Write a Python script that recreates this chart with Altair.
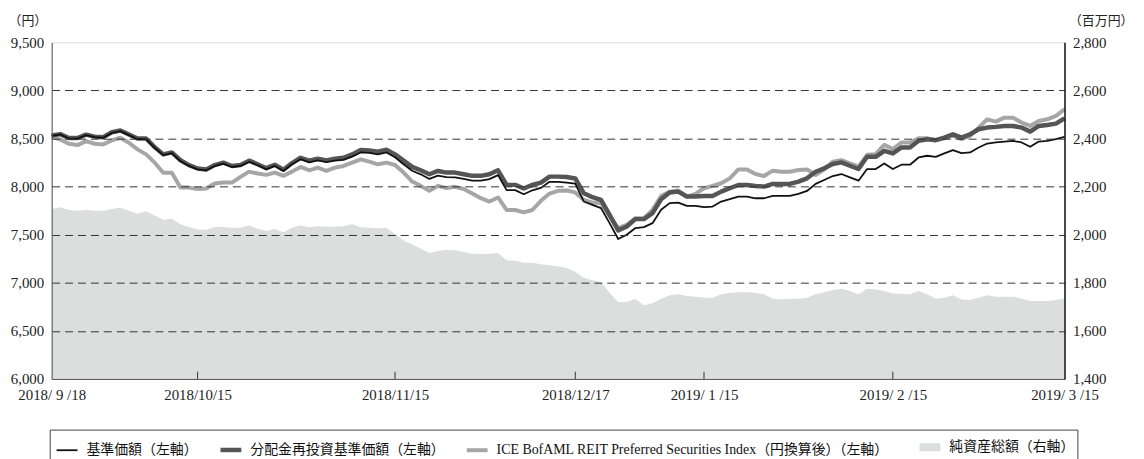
import altair as alt
import pandas as pd

dates = [
    "2018-09-18", "2018-09-19", "2018-09-20", "2018-09-21", "2018-09-25", "2018-09-26", "2018-09-27", "2018-09-28",
    "2018-10-01", "2018-10-02", "2018-10-03", "2018-10-04", "2018-10-05", "2018-10-09", "2018-10-10", "2018-10-11",
    "2018-10-12", "2018-10-15", "2018-10-16", "2018-10-17", "2018-10-18", "2018-10-19", "2018-10-22", "2018-10-23",
    "2018-10-24", "2018-10-25", "2018-10-26", "2018-10-29", "2018-10-30", "2018-10-31",
    "2018-11-01", "2018-11-02", "2018-11-05", "2018-11-06", "2018-11-07", "2018-11-08", "2018-11-09", "2018-11-12",
    "2018-11-13", "2018-11-14", "2018-11-15", "2018-11-16", "2018-11-19", "2018-11-20", "2018-11-21", "2018-11-22",
    "2018-11-26", "2018-11-27", "2018-11-28", "2018-11-29", "2018-11-30",
    "2018-12-03", "2018-12-04", "2018-12-05", "2018-12-06", "2018-12-07", "2018-12-10", "2018-12-11", "2018-12-12",
    "2018-12-13", "2018-12-14", "2018-12-17", "2018-12-18", "2018-12-19", "2018-12-20", "2018-12-21", "2018-12-25",
    "2018-12-26", "2018-12-27", "2018-12-28",
    "2019-01-04", "2019-01-07", "2019-01-08", "2019-01-09", "2019-01-10", "2019-01-11", "2019-01-15", "2019-01-16",
    "2019-01-17", "2019-01-18", "2019-01-21", "2019-01-22", "2019-01-23", "2019-01-24", "2019-01-25", "2019-01-28",
    "2019-01-29", "2019-01-30", "2019-01-31",
    "2019-02-01", "2019-02-04", "2019-02-05", "2019-02-06", "2019-02-07", "2019-02-08", "2019-02-12", "2019-02-13",
    "2019-02-14", "2019-02-15", "2019-02-18", "2019-02-19", "2019-02-20", "2019-02-21", "2019-02-22", "2019-02-25",
    "2019-02-26", "2019-02-27", "2019-02-28",
    "2019-03-01", "2019-03-04", "2019-03-05", "2019-03-06", "2019-03-07", "2019-03-08", "2019-03-11", "2019-03-12",
    "2019-03-13", "2019-03-14", "2019-03-15",
]

# 基準価額 (left axis, yen)
nav = [
    8528, 8542, 8500, 8500, 8535, 8515, 8508, 8559, 8577, 8535,
    8494, 8494, 8404, 8328, 8349, 8266, 8215, 8180, 8170, 8215,
    8239, 8204, 8215, 8259, 8222, 8180, 8215, 8163, 8232,
    8285, 8253, 8272, 8254, 8270, 8278, 8312, 8355, 8350, 8335,
    8355, 8305, 8232, 8165, 8128, 8080, 8115, 8098, 8097, 8080,
    8062, 8062, 8078, 8120, 7963, 7963, 7921, 7962, 7987, 8050,
    8050, 8042, 8030,
    7845, 7810, 7776, 7620, 7455, 7500, 7569, 7579, 7620, 7759,
    7828, 7834, 7800, 7800, 7786, 7793, 7845, 7869, 7897, 7897,
    7879, 7879, 7903, 7903, 7903, 7924, 7955, 8028, 8069, 8110,
    8131, 8096,
    8062, 8183, 8183, 8241, 8183, 8228, 8228, 8303, 8321, 8310,
    8345, 8379, 8348, 8355, 8407, 8448, 8459, 8469, 8476, 8459,
    8414, 8469, 8476, 8493, 8517,
]

# 分配金再投資基準価額 (left axis, yen)
nav_reinvested = [
    8532, 8546, 8505, 8505, 8540, 8520, 8513, 8565, 8583, 8541,
    8500, 8500, 8411, 8335, 8356, 8274, 8223, 8188, 8179, 8224,
    8249, 8214, 8225, 8270, 8233, 8192, 8227, 8176, 8245,
    8300, 8270, 8290, 8273, 8290, 8300, 8335, 8380, 8377, 8363,
    8384, 8335, 8270, 8205, 8170, 8129, 8163, 8146, 8146, 8129,
    8112, 8112, 8129, 8170, 8018, 8018, 7980, 8018, 8042, 8104,
    8104, 8100, 8085,
    7931, 7890, 7862, 7707, 7545, 7586, 7662, 7662, 7724, 7869,
    7938, 7948, 7897, 7897, 7903, 7903, 7948, 7983, 8017, 8017,
    8007, 8000, 8028, 8028, 8028, 8052, 8086, 8155, 8190, 8235,
    8252, 8217, 8183, 8310, 8310, 8372, 8345, 8407, 8407, 8476,
    8493, 8483, 8510, 8545, 8510, 8545, 8597, 8614, 8621, 8631,
    8631, 8614, 8572, 8631, 8641, 8655, 8710,
]

# ICE BofAML REIT Preferred Securities Index (yen converted, left axis)
ice_index = [
    8515, 8491, 8446, 8432, 8473, 8446, 8439, 8480, 8508, 8456,
    8387, 8335, 8249, 8145, 8145, 7990, 7990, 7974, 7980, 8032,
    8042, 8042, 8101, 8156, 8136, 8122, 8145, 8112, 8156,
    8205, 8170, 8198, 8163, 8198, 8215, 8249, 8284, 8260, 8232,
    8249, 8225, 8146, 8053, 8008, 7956, 8008, 7985, 7998, 7975,
    7928, 7880, 7845, 7887, 7757, 7757, 7732, 7757, 7852, 7928,
    7956, 7960, 7940,
    7862, 7834, 7828, 7690, 7569, 7603, 7672, 7672, 7759, 7903,
    7948, 7959, 7897, 7924, 7983, 8007, 8035, 8086, 8179, 8179,
    8131, 8110, 8166, 8155, 8155, 8173, 8179, 8121, 8179, 8259,
    8276, 8241, 8207, 8331, 8338, 8434, 8390, 8459, 8459, 8503,
    8503, 8483, 8503, 8528, 8493, 8528, 8614, 8700, 8676, 8717,
    8717, 8666, 8631, 8683, 8700, 8735, 8804,
]

# 純資産総額 (right axis, million yen)
net_assets = [
    2107, 2114, 2103, 2100, 2103, 2100, 2100, 2107, 2112, 2100,
    2087, 2098, 2080, 2062, 2066, 2043, 2032, 2021, 2021, 2032,
    2032, 2029, 2029, 2038, 2025, 2015, 2025, 2010, 2029,
    2038, 2031, 2035, 2033, 2033, 2035, 2043, 2031, 2029, 2027,
    2028, 2004, 1976, 1959, 1942, 1924, 1932, 1937, 1935, 1928,
    1921, 1920, 1921, 1924, 1894, 1892, 1883, 1883, 1877, 1873,
    1869, 1862, 1846,
    1821, 1811, 1803, 1759, 1720, 1720, 1734, 1706, 1715, 1734,
    1748, 1752, 1745, 1742, 1738, 1738, 1752, 1759, 1761, 1761,
    1759, 1752, 1734, 1731, 1734, 1734, 1738, 1752, 1761, 1770,
    1775, 1766, 1752, 1775, 1772, 1766, 1756, 1754, 1752, 1766,
    1752, 1735, 1738, 1748, 1731, 1728, 1738, 1748, 1742, 1742,
    1742, 1734, 1724, 1724, 1724, 1728, 1734,
]

tick_dates = ["2018-09-18", "2018-10-15", "2018-11-15", "2018-12-17", "2019-01-15", "2019-02-15", "2019-03-15"]
tick_labels = ["2018/ 9 /18", "2018/10/15", "2018/11/15", "2018/12/17", "2019/ 1 /15", "2019/ 2 /15", "2019/ 3 /15"]
inner_ticks = tick_dates[1:-1]

left_ticks = [6000, 6500, 7000, 7500, 8000, 8500, 9000, 9500]
right_ticks = [1400, 1600, 1800, 2000, 2200, 2400, 2600, 2800]

names = [
    "基準価額（左軸）",
    "分配金再投資基準価額（左軸）",
    "ICE BofAML REIT Preferred Securities Index（円換算後）（左軸）",
    "純資産総額（右軸）",
]
colors = ["#111111", "#555555", "#a6a6a6", "#dcdddd"]
widths = [1.8, 4.5, 4.0, 8.0]

FONT = "Liberation Serif, Noto Sans CJK JP, serif"

label_expr = ""
for d, l in zip(tick_dates, tick_labels):
    label_expr += f"datum.value == '{d}' ? '{l}' : "
label_expr += "''"

assert len(dates) == len(nav) == len(nav_reinvested) == len(ice_index) == len(net_assets)

wide = pd.DataFrame({"date": dates, names[0]: nav, names[1]: nav_reinvested, names[2]: ice_index})
long_df = wide.melt("date", var_name="series", value_name="value")
area_df = pd.DataFrame({"date": dates, "assets": net_assets})
tick_df = pd.DataFrame({"date": inner_ticks, "value": [6000] * len(inner_ticks), "value2": [6075] * len(inner_ticks)})

x_enc = alt.X(
    "date:O",
    scale=alt.Scale(type="point", padding=0),
    axis=alt.Axis(
        values=tick_dates, labelExpr=label_expr, title=None, ticks=False, tickSize=0,
        domain=True, domainColor="#555555", zindex=1, labelAngle=0, labelFontSize=15,
        labelFont=FONT, labelPadding=9, labelColor="#222222", labelOverlap=False,
        labelBound=False, labelFlush=False, grid=False,
    ),
)

left_y = alt.Y(
    "value:Q",
    scale=alt.Scale(domain=[6000, 9500], nice=False, zero=False),
    axis=alt.Axis(
        values=left_ticks, format=",.0f", grid=True, gridDash=[8, 5], gridColor="#333333",
        gridOpacity={"condition": {"test": "datum.value === 6000 || datum.value === 9500", "value": 0}, "value": 1},
        ticks=False, tickSize=0, domain=True, domainColor="#555555", zindex=1,
        labelPadding=8, labelFontSize=15, labelFont=FONT, labelColor="#222222",
        title="（円）", titleAngle=0, titleX=-44, titleY=-22, titleAlign="left",
        titleBaseline="middle", titleFont=FONT, titleFontSize=13, titleFontWeight="normal",
        titleColor="#222222",
    ),
)

right_y = alt.Y(
    "assets:Q",
    scale=alt.Scale(domain=[1400, 2800], nice=False, zero=False),
    axis=alt.Axis(
        orient="right", values=right_ticks, format=",.0f", grid=False, ticks=False, tickSize=0,
        domain=True, domainColor="#111111", domainWidth=1.5, zindex=1,
        labelPadding=8, labelFontSize=15, labelFont=FONT, labelColor="#222222",
        title="（百万円）", titleAngle=0, titleX=4, titleY=-22, titleAlign="left",
        titleBaseline="middle", titleFont=FONT, titleFontSize=13, titleFontWeight="normal",
        titleColor="#222222",
    ),
)

legend = alt.Legend(
    title=None, orient="none", legendX=-2, legendY=390, direction="horizontal", columns=4,
    symbolType="stroke", symbolSize=441, labelFontSize=14, labelFont=FONT, labelLimit=800,
    labelColor="#111111", columnPadding=14, padding=3, strokeColor="#444444", fillColor="white",
    labelOffset=5,
)

area = alt.Chart(area_df).mark_area(color="#dcdddd").encode(
    x=x_enc,
    y=right_y,
    y2=alt.datum(1400),
)

line_layers = []
for name in [names[2], names[1], names[0]]:
    line_layers.append(
        alt.Chart(long_df).transform_filter(alt.datum.series == name).mark_line(strokeJoin="round").encode(
            x=x_enc,
            y=left_y,
            color=alt.Color("series:N", scale=alt.Scale(domain=names, range=colors), legend=legend),
            strokeWidth=alt.StrokeWidth("series:N", scale=alt.Scale(type="ordinal", domain=names, range=widths), legend=legend),
        )
    )

ticks = alt.Chart(tick_df).mark_rule(color="#333333", strokeWidth=1).encode(
    x=x_enc,
    y=left_y,
    y2="value2:Q",
)

chart = alt.layer(area, alt.layer(*line_layers, ticks)).resolve_scale(y="independent").properties(
    width=1020,
    height=339,
    autosize="none",
    padding={"left": 44, "top": 33, "right": 72, "bottom": 80},
).configure_view(stroke="#555555", strokeWidth=1).configure(font=FONT)

chart.save("out.html", embed_options={"renderer": "svg", "actions": False})
